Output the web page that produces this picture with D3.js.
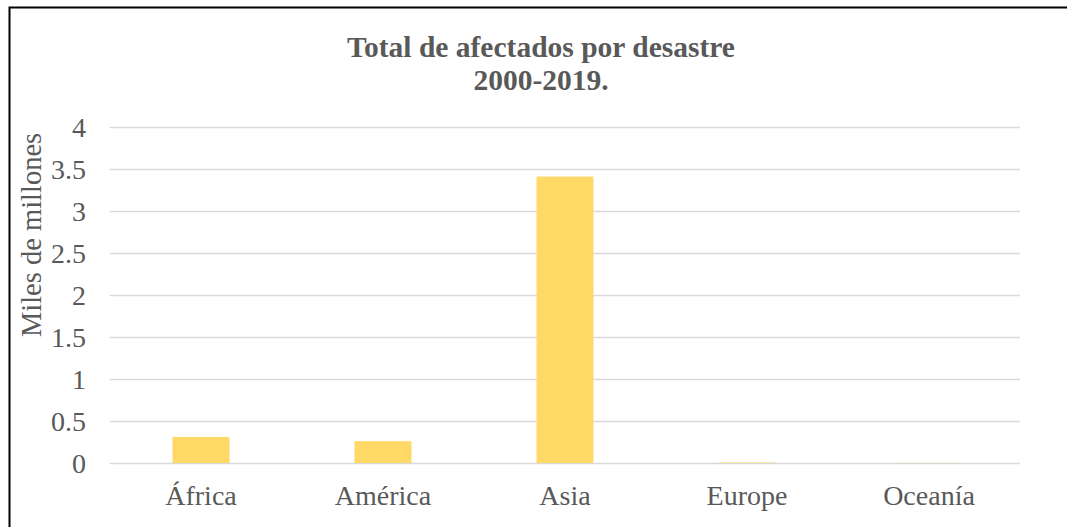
<!DOCTYPE html>
<html><head><meta charset="utf-8">
<script src="https://cdn.jsdelivr.net/npm/d3@7"></script>
<style>body{margin:0;background:#fff}svg{display:block}</style>
</head><body><svg id="c" width="1067" height="527"></svg>
<script>
const categories = ["África","América","Asia","Europe","Oceanía"];
const values = [0.31, 0.26, 3.41, 0.006, 0.002];
const yTicks = [0,0.5,1,1.5,2,2.5,3,3.5,4];
const titleLines = ["Total de afectados por desastre","2000-2019."];
const yLabel = "Miles de millones";

const svg = d3.select("#c");
const font = "'Liberation Serif','Times New Roman',serif";
const grey = "#595959";
svg.append("rect").attr("x",0).attr("y",0).attr("width",1067).attr("height",527).attr("fill","#fff");
svg.append("rect").attr("x",9.5).attr("y",7.5).attr("width",1070).attr("height",540)
  .attr("fill","none").attr("stroke","#000").attr("stroke-width",2);

const m = {left:110, right:1020, top:127, bottom:463};
const x = d3.scaleBand().domain(categories).range([m.left,m.right]).paddingInner(0.687).paddingOuter(0.3435);
const y = d3.scaleLinear().domain([0,4]).range([m.bottom,m.top]);

const yAxis = d3.axisLeft(y).tickValues(yTicks).tickSize(-(m.right-m.left)).tickFormat(d=>String(d));
const gy = svg.append("g").attr("transform",`translate(${m.left},0)`).call(yAxis);
gy.select(".domain").remove();
gy.selectAll(".tick line").attr("stroke","#d9d9d9").attr("stroke-width",1.5);
gy.selectAll(".tick text").attr("font-family",font).attr("font-size",28).attr("fill",grey).attr("dy","0.35em").attr("x",-24);

svg.append("g").selectAll("rect").data(values).join("rect")
  .attr("x",(d,i)=>x(categories[i])).attr("width",x.bandwidth())
  .attr("y",d=>y(d)).attr("height",d=>y(0)-y(d)).attr("fill","#ffd966");

const xAxis = d3.axisBottom(x).tickSize(0).tickPadding(22);
const gx = svg.append("g").attr("transform",`translate(0,${m.bottom})`).call(xAxis);
gx.select(".domain").remove();
gx.selectAll(".tick text").attr("font-family",font).attr("font-size",28).attr("fill",grey);

svg.append("text").attr("x",541).attr("y",57).attr("text-anchor","middle")
  .attr("font-family",font).attr("font-size",29.5).attr("font-weight","bold").attr("fill",grey)
  .selectAll("tspan").data(titleLines).join("tspan").attr("x",541).attr("dy",(d,i)=>i?33:0).text(d=>d);

svg.append("text").attr("transform","translate(41,235) rotate(-90)").attr("text-anchor","middle")
  .attr("font-family",font).attr("font-size",28.5).attr("fill",grey).text(yLabel);
</script></body></html>
